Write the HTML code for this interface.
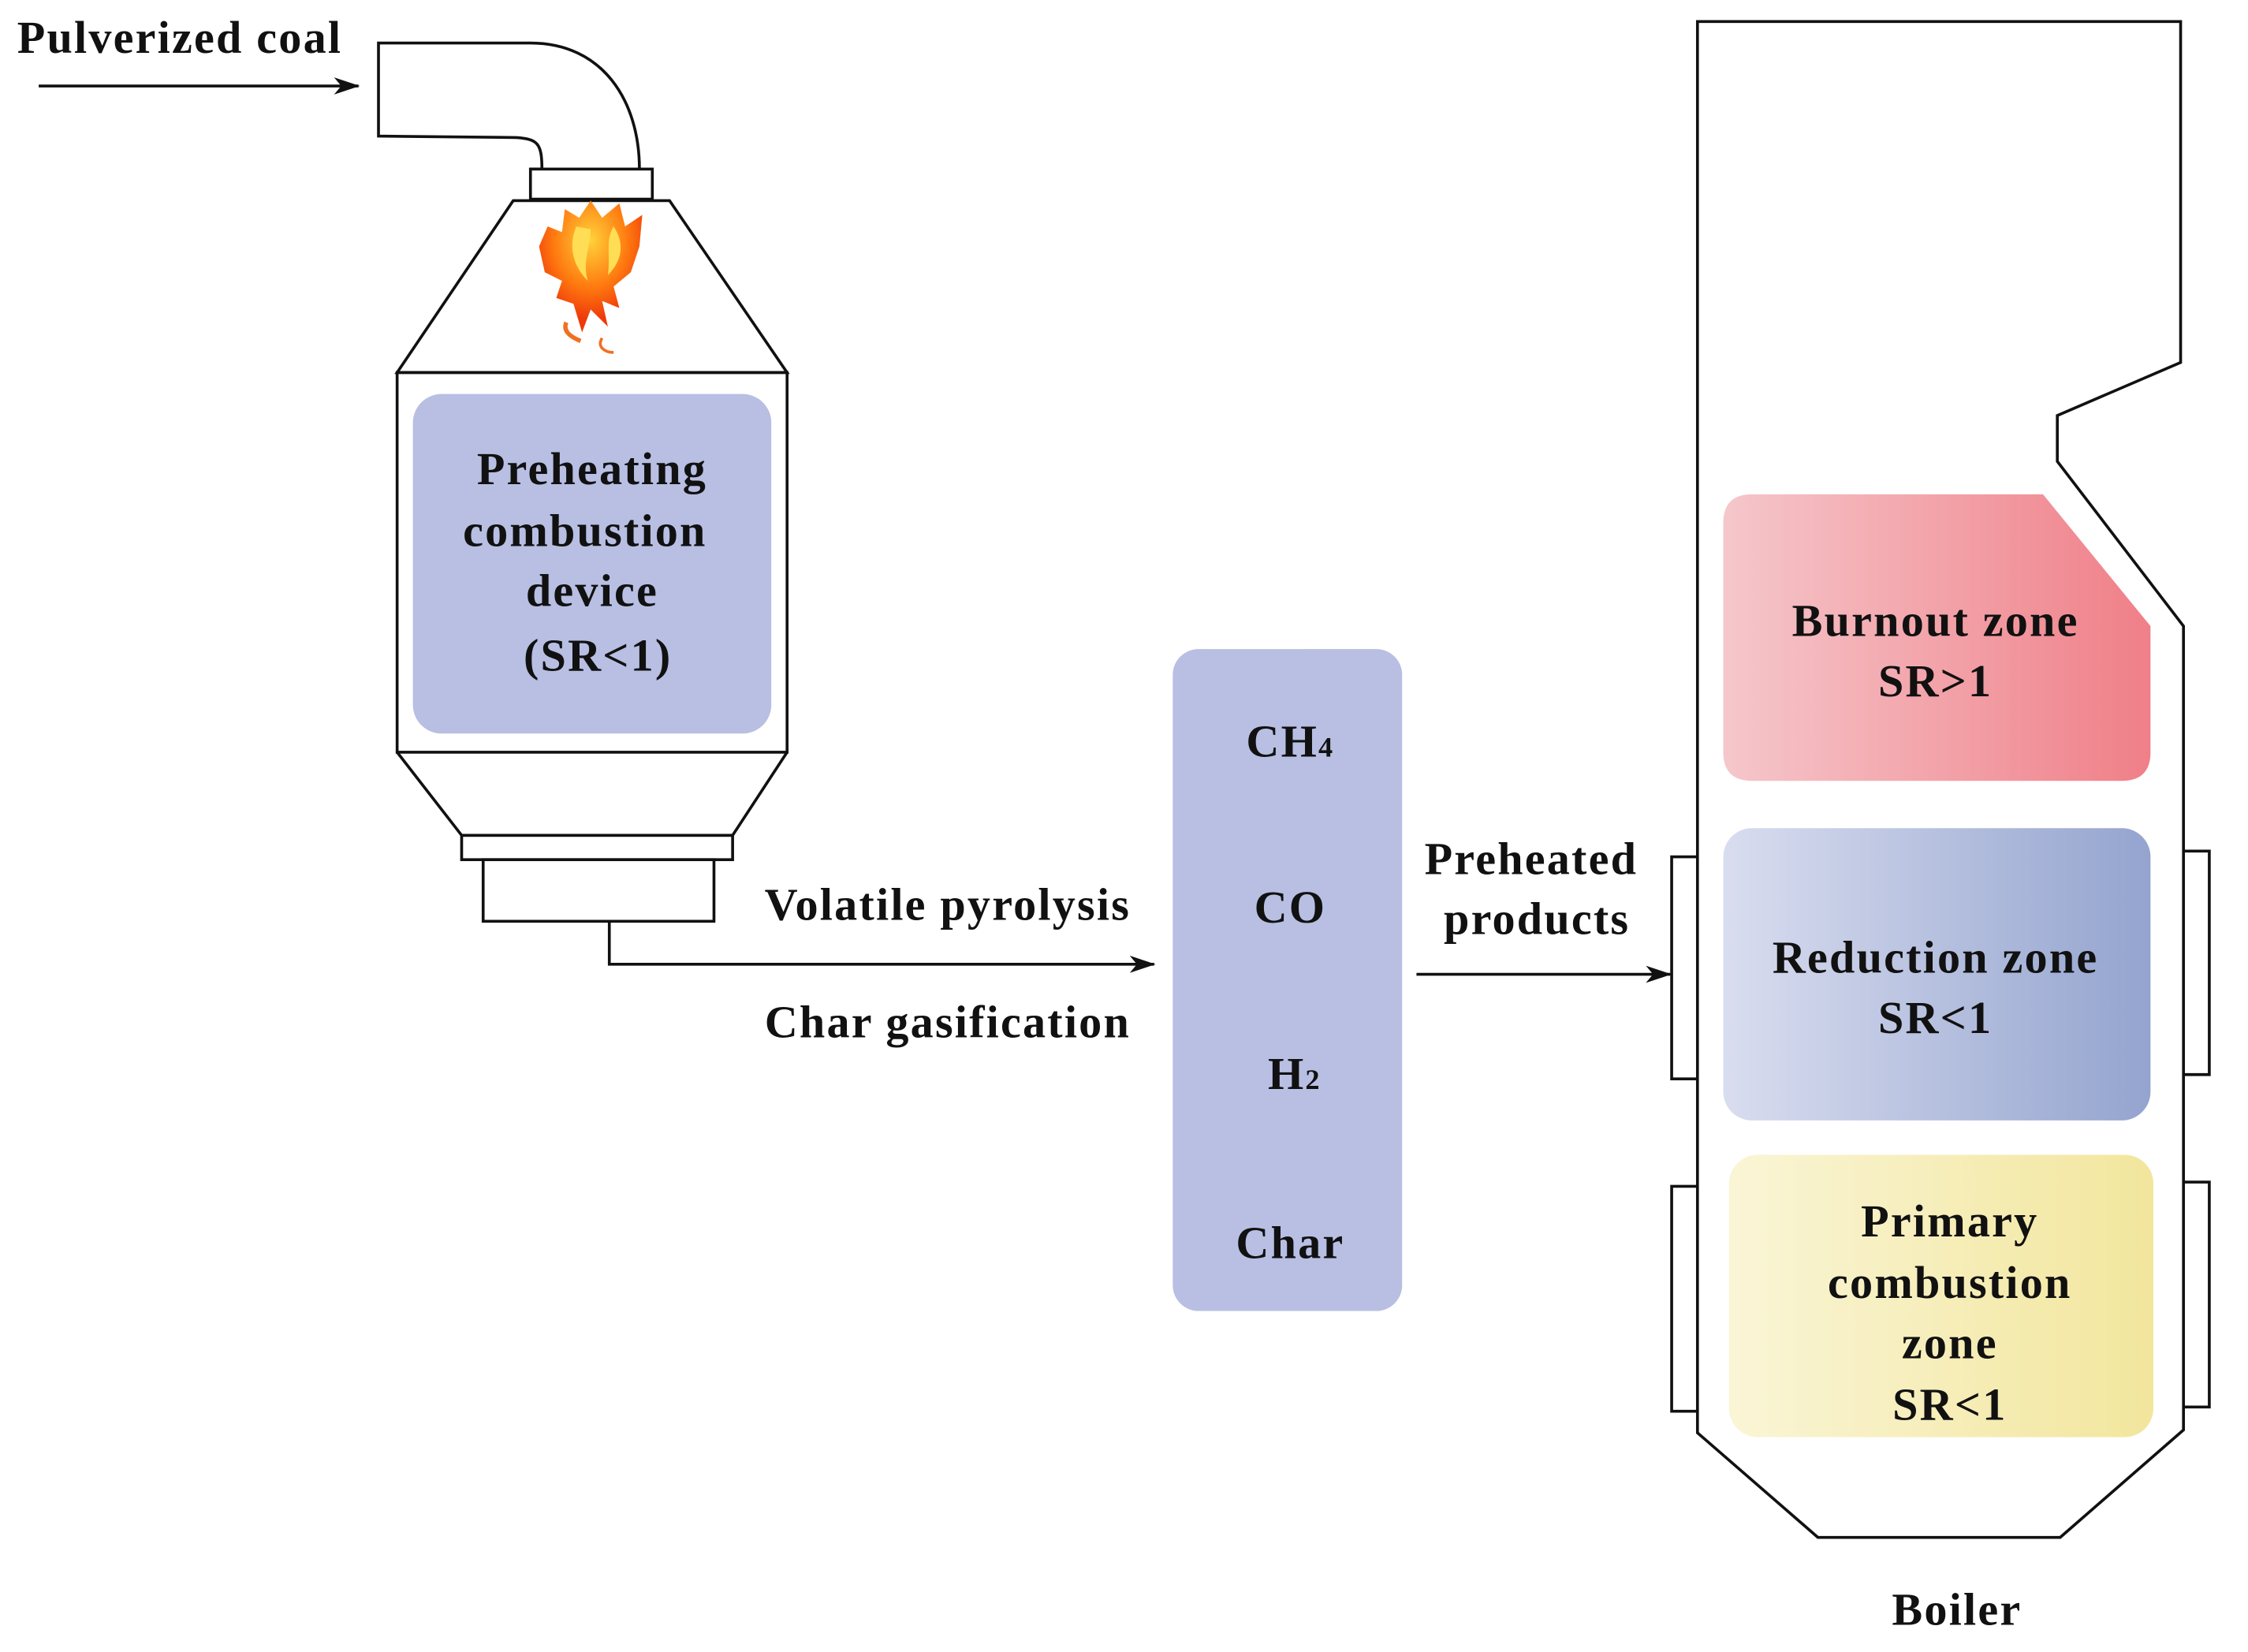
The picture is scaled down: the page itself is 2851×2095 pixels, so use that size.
<!DOCTYPE html>
<html><head><meta charset="utf-8"><style>
html,body{margin:0;padding:0;background:#fff;}
svg{display:block;}
text{font-family:"Liberation Serif",serif;font-weight:bold;font-size:32px;letter-spacing:1.2px;fill:#111;}
</style></head><body>
<svg width="2851" height="2095" viewBox="0 0 1568 1153" preserveAspectRatio="none" xmlns="http://www.w3.org/2000/svg">
<defs>
<marker id="ar" markerWidth="18" markerHeight="12" refX="17" refY="6" orient="auto" markerUnits="userSpaceOnUse"><path d="M0,0 L18,6 L0,12 L5,6 Z" fill="#111"/></marker>
<linearGradient id="gb" x1="0" x2="1" y1="0" y2="0"><stop offset="0" stop-color="#f5c7cb"/><stop offset="1" stop-color="#f07f88"/></linearGradient>
<linearGradient id="gr" x1="0" x2="1" y1="0" y2="0"><stop offset="0" stop-color="#d9ddef"/><stop offset="1" stop-color="#94a4cf"/></linearGradient>
<linearGradient id="gy" x1="0" x2="1" y1="0" y2="0"><stop offset="0" stop-color="#faf5d6"/><stop offset="1" stop-color="#f2e69d"/></linearGradient>
<radialGradient id="gf" cx="0.5" cy="0.3" r="0.6"><stop offset="0" stop-color="#ffd23a"/><stop offset="0.6" stop-color="#ff7a10"/><stop offset="1" stop-color="#ee3a0a"/></radialGradient>
</defs>
<g fill="none" stroke="#111" stroke-width="2">
<line x1="27" y1="60" x2="250" y2="60" marker-end="url(#ar)"/>
<path d="M370,118 L378,118 C378,100 375,97 360,96 L264,95 L264,30 L370,30 C420,30 446,70 446,118"/>
<rect x="370" y="118" width="85" height="21" fill="#fff"/>
<path d="M358,140 L467,140 L549,260 L277,260 Z"/>
<rect x="277" y="260" width="272" height="265"/>
<path d="M277,525 L322,583 L511,583 L549,525"/>
<rect x="322" y="583" width="189" height="17"/>
<rect x="337" y="600" width="161" height="43"/>
<path d="M425,643 L425,673 L805,673" marker-end="url(#ar)"/>
<line x1="988" y1="680" x2="1165" y2="680" marker-end="url(#ar)"/>
<path d="M1184,15 L1521,15 L1521,253 L1435,290 L1435,322 L1523,437 L1523,998 L1437,1073 L1268,1073 L1184,1000 Z"/>
<path d="M1184,598 L1166,598 L1166,753 L1184,753"/>
<path d="M1184,828 L1166,828 L1166,985 L1184,985"/>
<path d="M1523,594 L1541,594 L1541,750 L1523,750"/>
<path d="M1523,825 L1541,825 L1541,982 L1523,982"/>
</g>
<g>
<path d="M412,140 L420,152 L432,142 L436,158 L448,150 L446,172 L440,190 L428,200 L432,215 L420,210 L424,228 L412,216 L406,232 L400,212 L388,208 L392,196 L380,190 L376,172 L382,158 L392,162 L394,146 L404,152 Z" fill="url(#gf)"/>
<path d="M402,158 C396,172 400,186 410,196 C406,182 412,172 412,160 Z" fill="#ffdd55"/>
<path d="M428,158 C436,170 434,182 424,192 C426,178 422,168 428,158 Z" fill="#ffdd55"/>
<path d="M395,225 C392,232 400,236 405,238" stroke="#f07020" stroke-width="3" fill="none"/>
<path d="M420,236 C416,242 422,246 428,246" stroke="#f07020" stroke-width="2" fill="none"/>
</g>
<rect x="288" y="275" width="250" height="237" rx="20" fill="#b8bfe3"/>
<rect x="818" y="453" width="160" height="462" rx="18" fill="#b8bfe3"/>
<path d="M1222,345 L1425,345 L1500,437 L1500,525 Q1500,545 1480,545 L1222,545 Q1202,545 1202,525 L1202,365 Q1202,345 1222,345 Z" fill="url(#gb)"/>
<rect x="1202" y="578" width="298" height="204" rx="20" fill="url(#gr)"/>
<rect x="1206" y="806" width="296" height="197" rx="20" fill="url(#gy)"/>
<text x="12" y="37" font-size="31">Pulverized coal</text>
<g text-anchor="middle">
<text x="413" y="338">Preheating</text>
<text x="408" y="381">combustion</text>
<text x="413" y="423">device</text>
<text x="417" y="468">(SR&lt;1)</text>
<text x="661" y="642">Volatile pyrolysis</text>
<text x="661" y="724">Char gasification</text>
<text x="900" y="528">CH<tspan font-size="20">4</tspan></text>
<text x="900" y="644">CO</text>
<text x="903" y="760">H<tspan font-size="20">2</tspan></text>
<text x="900" y="878">Char</text>
<text x="1068" y="610">Preheated</text>
<text x="1072" y="652">products</text>
<text x="1350" y="444">Burnout zone</text>
<text x="1350" y="486">SR&gt;1</text>
<text x="1350" y="679">Reduction zone</text>
<text x="1350" y="721">SR&lt;1</text>
<text x="1360" y="863">Primary</text>
<text x="1360" y="906">combustion</text>
<text x="1360" y="948">zone</text>
<text x="1360" y="991">SR&lt;1</text>
<text x="1365" y="1134">Boiler</text>
</g>
</svg>
</body></html>
